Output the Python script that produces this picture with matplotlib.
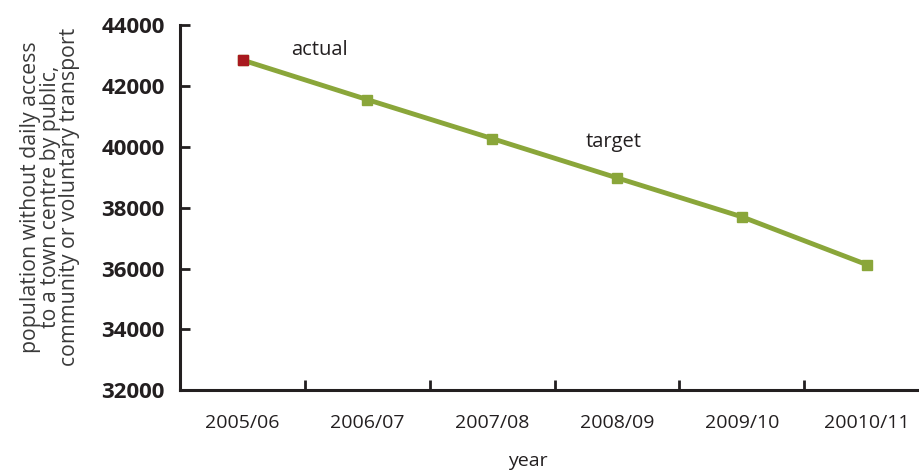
import matplotlib
matplotlib.use("Agg")
import matplotlib.pyplot as plt

# データ
years = ["2005/06", "2006/07", "2007/08", "2008/09", "2009/10", "20010/11"]
population = [42850, 41550, 40270, 38980, 37700, 36130]
y_ticks = [32000, 34000, 36000, 38000, 40000, 42000, 44000]

plt.rcParams["font.family"] = ["Open Sans", "DejaVu Sans"]

fig = plt.figure(figsize=(9.19, 4.73), dpi=100)
ax = fig.add_axes([0.196, 0.175, 0.804, 0.772])

green = "#8aa63a"
red = "#a8191e"
dark = "#231f20"

x = list(range(len(years)))
ax.plot(x, population, color=green, lw=3.5, marker="s", ms=7,
        mfc=green, mec=green, zorder=3, clip_on=False)
ax.plot(x[0], population[0], marker="s", ms=7, color=red, zorder=4,
        ls="none", clip_on=False)

ax.text(0.62, 43180, "actual", fontsize=14.5, color=dark, ha="center", va="center")
ax.text(2.97, 40160, "target", fontsize=14.5, color=dark, ha="center", va="center")

ax.set_xlim(-0.5, 5.42)
ax.set_ylim(32000, 44000)
ax.set_yticks(y_ticks)
ax.set_yticklabels([str(v) for v in y_ticks], fontweight="bold", fontsize=16)

ax.set_xticks(x)
ax.set_xticklabels(years, fontsize=14)
ax.set_xticks([i + 0.5 for i in range(len(years) - 1)], minor=True)
ax.tick_params(axis="x", which="major", length=0, pad=17, colors=dark)
ax.tick_params(axis="x", which="minor", length=7, width=2, direction="in", color=dark)
ax.tick_params(axis="y", length=7, width=2, direction="in", pad=11, colors=dark)

for s in ["top", "right"]:
    ax.spines[s].set_visible(False)
for s in ["left", "bottom"]:
    ax.spines[s].set_linewidth(2.2)
    ax.spines[s].set_color(dark)

ax.set_ylabel("population without daily access\nto a town centre by public,\ncommunity or voluntary transport",
              fontsize=15.3, color="#3a3a3a", linespacing=0.88)
ax.yaxis.set_label_coords(-0.136, 0.529)
ax.set_xlabel("year", fontsize=14, color=dark)
ax.xaxis.set_label_coords(0.471, -0.168)

fig.savefig("out.png", dpi=100)
